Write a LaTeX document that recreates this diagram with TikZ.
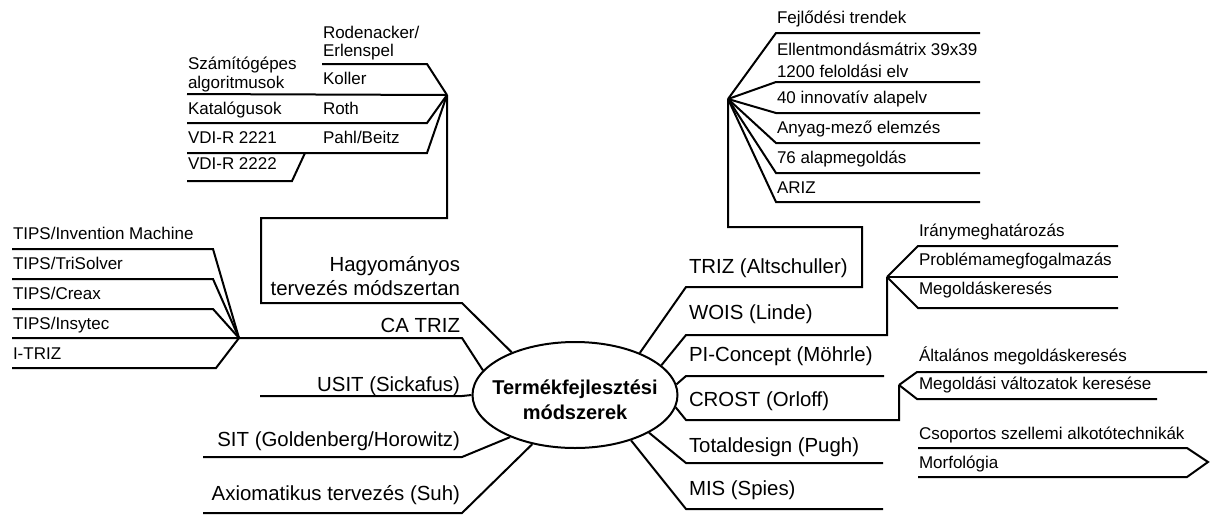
\documentclass[tikz,border=0pt]{standalone}
\usepackage{fontspec}
\setmainfont{Liberation Sans}
\usetikzlibrary{shapes.geometric}

\begin{document}
\begin{tikzpicture}[x=0.75pt, y=-0.75pt, line width=1.5pt,
  kis/.style={font=\fontsize{12.75}{14}\selectfont, inner sep=0pt, anchor=base west, align=left},
  nagy/.style={font=\fontsize{15.3}{17.3}\selectfont, inner sep=0pt},
  bal/.style={nagy, anchor=base east, align=right},
  jobb/.style={nagy, anchor=base west}]
  \useasboundingbox (0,0) rectangle (1210,515);

  % középső ellipszis: középpont (575,395), tengelyek 205 x 106
  \node[ellipse, draw, minimum width=153.75pt, minimum height=79.5pt, inner sep=0pt] (K) at (575,395) {};
  \node[font=\bfseries\fontsize{15}{18.75}\selectfont, align=center] (Kszoveg) at (575,400) {Termékfejlesztési\\módszerek};

  % csomópontok
  \coordinate (H1) at (447,95);   % hagyományos
  \coordinate (H2) at (728,99);   % TRIZ
  \coordinate (H3) at (887,277);  % WOIS
  \coordinate (H4) at (899,385);  % CROST
  \coordinate (H5) at (239,338);  % CA TRIZ

  % --- Hagyományos tervezés módszertan ---
  % (többsoros csomópont: base = utolsó sor alapvonala)
  \draw (K.146) -- (462,303) coordinate (hagyV) -- (261,303) -- (261,218) -- (447,218) -- (H1);
  \draw (H1) -- (427,64) -- (322,64) coordinate (rodE);
  \draw (H1) -- (187,94) coordinate (szamE);
  \draw (H1) -- (427,123) -- (187,123) coordinate (katE);
  \draw (H1) -- (427,153) -- (187,153) coordinate (vdiE);
  \coordinate (vdiK) at (305,153);
  \draw (vdiK) -- (292,181) -- (187,181) coordinate (vdi2E);

  \node[bal] (hagy) at (461,295) {Hagyományos\\tervezés módszertan};
  \node[kis, font=\fontsize{12.75}{13.5}\selectfont] (rod) at (322,56) {Rodenacker/\\Erlenspel};
  \node[kis] (szam) at (187,88) {Számítógépes\\algoritmusok};
  \node[kis] (koller) at (322,84) {Koller};
  \node[kis] (kat) at (187,114) {Katalógusok};
  \node[kis] (roth) at (322,114) {Roth};
  \node[kis] (vdi1) at (187,143) {VDI-R 2221};
  \node[kis] (pahl) at (322,143) {Pahl/Beitz};
  \node[kis] (vdi2) at (187,169) {VDI-R 2222};

  % --- TRIZ (Altschuller) ---
  \draw (K.33) -- (686,287) -- (862,287) -- (862,227) -- (728,227) -- (H2);
  \foreach \y [count=\i] in {33,82,113,143,173,202} {
    \draw (H2) -- (776,\y) coordinate (tb\i) -- (980,\y) coordinate (tj\i);
  }
  \node[jobb] (triz) at (688,273) {TRIZ (Altschuller)};
  \node[kis] (fejl) at (776,23) {Fejlődési trendek};
  \node[kis, font=\fontsize{12.75}{16}\selectfont] (ellent) at (776,77) {Ellentmondásmátrix 39x39\\1200 feloldási elv};
  \node[kis] (negyven) at (776,103) {40 innovatív alapelv};
  \node[kis] (anyag) at (776,133) {Anyag-mező elemzés};
  \node[kis] (hetven) at (776,163) {76 alapmegoldás};
  \node[kis] (ariz) at (776,193) {ARIZ};

  % --- WOIS (Linde) ---
  \draw (K.19) -- (686,335) -- (887,335) -- (H3);
  \draw (H3) -- (918,246) -- (1118,246) coordinate (iranyE);
  \draw (H3) -- (1118,277) coordinate (problE);
  \draw (H3) -- (918,308) -- (1118,308) coordinate (megE);
  \node[jobb] (wois) at (688,319) {WOIS (Linde)};
  \node[kis] (irany) at (918,236) {Iránymeghatározás};
  \node[kis] (probl) at (918,265) {Problémamegfogalmazás};
  \node[kis] (megold) at (918,294) {Megoldáskeresés};

  % --- PI-Concept, CROST ---
  \draw (K.6) -- (686,376) -- (884,376) coordinate (piE);
  \node[jobb] (pi) at (688,361) {PI-Concept (Möhrle)};
  \draw (K.-7) -- (686,420) -- (899,420) -- (H4);
  \draw (H4) -- (917,372) -- (1207,372) coordinate (altE);
  \draw (H4) -- (917,399) -- (1157,399) coordinate (valtE);
  \node[jobb] (crost) at (688,406) {CROST (Orloff)};
  \node[kis] (alt) at (918,361) {Általános megoldáskeresés};
  \node[kis] (valt) at (918,389) {Megoldási változatok keresése};

  % --- Totaldesign, MIS ---
  \draw (K.-27) -- (686,463) -- (883,463) coordinate (totE);
  \draw (K.-39) -- (686,509) -- (883,509) coordinate (misE);
  \node[jobb] (tot) at (688,452) {Totaldesign (Pugh)};
  \node[jobb] (mis) at (688,495) {MIS (Spies)};
  \draw (918,448) coordinate (morfA) -- (1187,448) -- (1208,462) -- (1187,477) -- (918,477) coordinate (morfB);
  \node[kis] (csop) at (918,439) {Csoportos szellemi alkotótechnikák};
  \node[kis] (morf) at (918,468) {Morfológia};

  % --- CA TRIZ ---
  \draw (K.165) -- (462,338) -- (H5) -- (12,338) coordinate (insE);
  \draw (H5) -- (213,249) -- (12,249) coordinate (invE);
  \draw (H5) -- (213,279) -- (12,279) coordinate (triE);
  \draw (H5) -- (213,309) -- (12,309) coordinate (creE);
  \draw (H5) -- (216,368) -- (12,368) coordinate (itrE);
  \node[bal] (catriz) at (461,332) {CA TRIZ};
  \node[kis] (inv) at (12,239) {TIPS/Invention Machine};
  \node[kis] (tri) at (12,269) {TIPS/TriSolver};
  \node[kis] (cre) at (12,299) {TIPS/Creax};
  \node[kis] (ins) at (12,329) {TIPS/Insytec};
  \node[kis] (itr) at (12,359) {I-TRIZ};

  % --- USIT, SIT, Axiomatikus ---
  \draw (K.180) -- (462,396) -- (260,396) coordinate (usE);
  \draw (K.213) -- (462,457) -- (203,457) coordinate (sitE);
  \draw (K.229) -- (462,513) -- (203,513) coordinate (axE);
  \node[bal] (usit) at (461,391) {USIT (Sickafus)};
  \node[bal] (sit) at (461,446) {SIT (Goldenberg/Horowitz)};
  \node[bal] (ax) at (461,500) {Axiomatikus tervezés (Suh)};
\end{tikzpicture}
\end{document}
